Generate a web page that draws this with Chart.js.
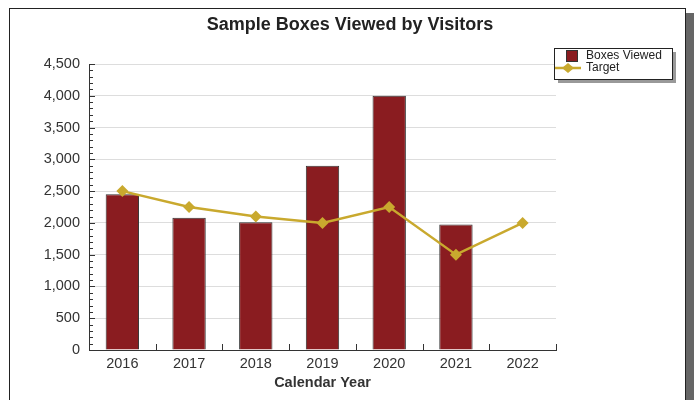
<!DOCTYPE html>
<html><head><meta charset="utf-8">
<script src="https://cdn.jsdelivr.net/npm/chart.js@4"></script>
<style>html,body{margin:0;padding:0;background:#fff}#wrap{width:694px;height:400px;position:relative}</style>
</head><body><div id="wrap"><canvas id="c" width="694" height="400"></canvas></div>
<script>
const categories = ['2016', '2017', '2018', '2019', '2020', '2021', '2022'];
const boxesViewed = [2450, 2080, 2010, 2900, 4000, 1975, null];
const target = [2500, 2250, 2100, 2000, 2250, 1500, 2000];
const yMin = 0, yMax = 4500, yStep = 500, yMinorStep = 100;
const chartTitle = 'Sample Boxes Viewed by Visitors';
const xAxisTitle = 'Calendar Year';
const seriesNames = ['Boxes Viewed', 'Target'];

const FONT = '"Liberation Sans", Arial, sans-serif';
const BAR_COLOR = '#8a1c20';
const LINE_COLOR = '#c9a92e';
const TEXT = '#333333';

const decor = {
  id: 'decor',
  beforeDraw(chart) {
    const ctx = chart.ctx;
    ctx.save();
    ctx.fillStyle = '#fff';
    ctx.fillRect(0, 0, chart.width, chart.height);
    ctx.fillStyle = '#666';
    ctx.fillRect(686, 13, 8, 400);
    ctx.strokeStyle = '#222';
    ctx.lineWidth = 1;
    ctx.strokeRect(9.5, 8.5, 676, 410);
    ctx.restore();
  },
  afterDraw(chart) {
    const ctx = chart.ctx;
    const y = chart.scales.y, x = chart.scales.x;
    const area = chart.chartArea;
    ctx.save();
    ctx.strokeStyle = '#333';
    ctx.lineWidth = 1;
    for (let v = yMin; v <= yMax; v += yMinorStep) {
      const py = Math.round(y.getPixelForValue(v)) + 0.5;
      const len = (v % yStep === 0) ? 6 : 4;
      ctx.beginPath();
      ctx.moveTo(area.left, py);
      ctx.lineTo(area.left + len, py);
      ctx.stroke();
    }
    for (let i = 1; i <= categories.length; i++) {
      const px = Math.round(x.getPixelForValue(i - 0.5)) + 0.5;
      ctx.beginPath();
      ctx.moveTo(px, area.bottom);
      ctx.lineTo(px, area.bottom - 6);
      ctx.stroke();
    }
    ctx.fillStyle = '#222';
    ctx.font = 'bold 18px ' + FONT;
    ctx.textAlign = 'center';
    ctx.textBaseline = 'alphabetic';
    ctx.fillText(chartTitle, 350, 30);
    ctx.font = 'bold 14.5px ' + FONT;
    ctx.fillStyle = TEXT;
    ctx.fillText(xAxisTitle, (area.left + area.right) / 2, 387);
    // legend
    const lx = 554, ly = 48, lw = 118, lh = 31;
    ctx.fillStyle = '#999';
    ctx.fillRect(lx + 4, ly + 4, lw, lh);
    ctx.fillStyle = '#fff';
    ctx.fillRect(lx, ly, lw, lh);
    ctx.strokeStyle = '#222';
    ctx.strokeRect(lx + 0.5, ly + 0.5, lw, lh);
    const ds = chart.data.datasets;
    const barDs = ds.find(d => d.type === 'bar');
    const lineDs = ds.find(d => d.type === 'line');
    ctx.fillStyle = barDs.backgroundColor;
    ctx.fillRect(566, 50, 11, 11);
    ctx.strokeStyle = '#333';
    ctx.lineWidth = 1;
    ctx.strokeRect(566.5, 50.5, 11, 11);
    ctx.strokeStyle = lineDs.borderColor;
    ctx.lineWidth = 2.5;
    ctx.beginPath();
    ctx.moveTo(555, 68);
    ctx.lineTo(581, 68);
    ctx.stroke();
    ctx.fillStyle = lineDs.borderColor;
    ctx.beginPath();
    ctx.moveTo(568, 63); ctx.lineTo(574, 68); ctx.lineTo(568, 73); ctx.lineTo(562, 68);
    ctx.closePath();
    ctx.fill();
    ctx.fillStyle = '#222';
    ctx.font = '12px ' + FONT;
    ctx.textAlign = 'left';
    ctx.fillText(barDs.label, 586, 59);
    ctx.fillText(lineDs.label, 586, 71);
    ctx.restore();
  }
};

new Chart(document.getElementById('c'), {
  data: {
    labels: categories,
    datasets: [
      {
        type: 'line', label: seriesNames[1], data: target, order: 0,
        borderColor: LINE_COLOR, backgroundColor: LINE_COLOR, borderWidth: 2.5,
        pointStyle: 'rectRot', pointRadius: 6, pointBackgroundColor: LINE_COLOR,
        pointBorderWidth: 0, tension: 0
      },
      {
        type: 'bar', label: seriesNames[0], data: boxesViewed, order: 1,
        backgroundColor: BAR_COLOR, borderColor: '#333', borderWidth: 1,
        barPercentage: 1, categoryPercentage: 0.5
      }
    ]
  },
  options: {
    responsive: false, animation: false,
    layout: { padding: { top: 64, right: 138, left: 0, bottom: 0 } },
    plugins: { legend: { display: false }, title: { display: false }, tooltip: { enabled: false } },
    scales: {
      x: {
        offset: true,
        grid: { display: false, drawTicks: false },
        border: { display: true, color: '#333', width: 1 },
        ticks: { font: { family: FONT, size: 14.5 }, color: TEXT, padding: 5 },
        afterFit(s) { s.height = 50; }
      },
      y: {
        min: yMin, max: yMax,
        grid: { color: '#dddddd', drawTicks: false },
        border: { display: true, color: '#333', width: 1 },
        ticks: {
          stepSize: yStep, padding: 9, color: TEXT,
          font: { family: FONT, size: 14.5 },
          callback: v => v.toLocaleString('en-US')
        },
        afterFit(s) { s.width = 89; }
      }
    }
  },
  plugins: [decor]
});
</script></body></html>
